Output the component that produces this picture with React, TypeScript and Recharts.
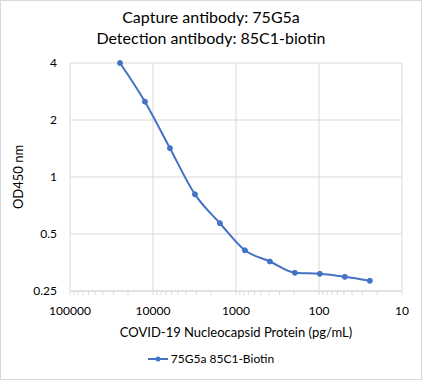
import { LineChart, Line, XAxis, YAxis, CartesianGrid, ReferenceLine, Label } from "recharts";

// 2-fold dilution series, pg/mL (high → low so the reversed axis runs left → right)
const CONC = [25000, 12500, 6250, 3125, 1562.5, 781.25, 390.6, 195.3, 97.7, 48.8, 24.4];
const OD450 = [4.0, 2.5, 1.42, 0.81, 0.57, 0.41, 0.358, 0.312, 0.308, 0.297, 0.283];

const X_MAJOR = [100000, 10000, 1000, 100, 10];
const Y_TICKS = [0.25, 0.5, 1, 2, 4];
const Y_LABELS = ["0.25", "0.5", "1", "2", "4"];

const TITLE = ["Capture antibody: 75G5a", "Detection antibody: 85C1-biotin"];
const X_TITLE = "COVID-19 Nucleocapsid Protein (pg/mL)";
const Y_TITLE = "OD450 nm";
const SERIES = "75G5a 85C1-Biotin";

const BLUE = "#4472C4";
const GRID = "#d9d9d9";
const TEXT = "#000";
const FONT = "Lato, 'Noto Sans', sans-serif";

// minor ticks 20..90, 200..900 etc.
const X_MINOR: number[] = [];
for (const d of [10, 100, 1000, 10000]) {
  for (let m = 2; m <= 9; m++) X_MINOR.push(d * m);
}
const X_TICKS = [...X_MAJOR, ...X_MINOR].sort((a, b) => a - b);

const data = CONC.map((c, i) => ({ conc: c, od: OD450[i] }));

function XTick({ x, y, payload }: any) {
  if (!X_MAJOR.includes(payload.value)) return <g />;
  return (
    <text x={x} y={y} dy="0.71em" textAnchor="middle" fontSize={12} fill={TEXT} fontFamily={FONT}>
      {payload.value}
    </text>
  );
}

function YTitle({ viewBox }: any) {
  const cx = viewBox.x + 18;
  const cy = viewBox.y + viewBox.height / 2;
  return (
    <text
      x={cx}
      y={cy}
      transform={`rotate(-90 ${cx} ${cy})`}
      textAnchor="middle"
      dominantBaseline="central"
      fontSize={13}
      fill={TEXT}
      fontFamily={FONT}
    >
      {Y_TITLE}
    </text>
  );
}

export default function App() {
  return (
    <div style={{ position: "fixed", left: 0, top: 0, width: 422, height: 380, background: "#fff", fontFamily: FONT }}>
      <div style={{ position: "absolute", left: 0, top: 6, width: 422, textAlign: "center", fontSize: 16, lineHeight: "21px", color: TEXT }}>
        {TITLE.map((t) => (
          <div key={t}>{t}</div>
        ))}
      </div>
      <LineChart width={422} height={380} data={data} margin={{ top: 63, right: 20, bottom: 41, left: 0 }}>
        <CartesianGrid stroke={GRID} vertical={false} horizontalValues={Y_TICKS} />
        {X_MAJOR.map((v) => (
          <ReferenceLine key={v} x={v} stroke={GRID} ifOverflow="extendDomain" />
        ))}
        <XAxis
          dataKey="conc"
          type="number"
          scale="log"
          domain={[10, 100000]}
          reversed
          ticks={X_TICKS}
          interval={0}
          height={48}
          axisLine={{ stroke: GRID }}
          tickLine={{ stroke: GRID }}
          tickSize={4}
          tickMargin={11}
          tick={<XTick />}
        >
          <Label value={X_TITLE} position="insideBottom" offset={2} fontSize={13} fill={TEXT} fontFamily={FONT} />
        </XAxis>
        <YAxis
          type="number"
          scale="log"
          domain={[0.25, 4]}
          ticks={Y_TICKS}
          tickFormatter={(v: number) => Y_LABELS[Y_TICKS.indexOf(v)]}
          width={70}
          axisLine={false}
          tickLine={false}
          tickSize={0}
          tickMargin={13}
          tick={{ fontSize: 12, fill: TEXT, fontFamily: FONT }}
        >
          <Label content={<YTitle />} />
        </YAxis>
        <Line
          dataKey="od"
          type="monotone"
          stroke={BLUE}
          strokeWidth={2}
          dot={{ r: 2.5, fill: BLUE, stroke: BLUE, strokeWidth: 1 }}
          isAnimationActive={false}
        />
      </LineChart>
      <div
        style={{
          position: "absolute",
          left: 0,
          top: 351,
          width: 422,
          display: "flex",
          justifyContent: "center",
          alignItems: "center",
          fontSize: 12,
          color: TEXT,
        }}
      >
        <svg width={20} height={10} style={{ marginRight: 3 }}>
          <line x1={0} y1={5} x2={20} y2={5} stroke={BLUE} strokeWidth={2} />
          <circle cx={10} cy={5} r={2.5} fill={BLUE} />
        </svg>
        <span>{SERIES}</span>
      </div>
      <div style={{ position: "absolute", inset: 0, border: `1px solid ${GRID}`, pointerEvents: "none" }} />
    </div>
  );
}
